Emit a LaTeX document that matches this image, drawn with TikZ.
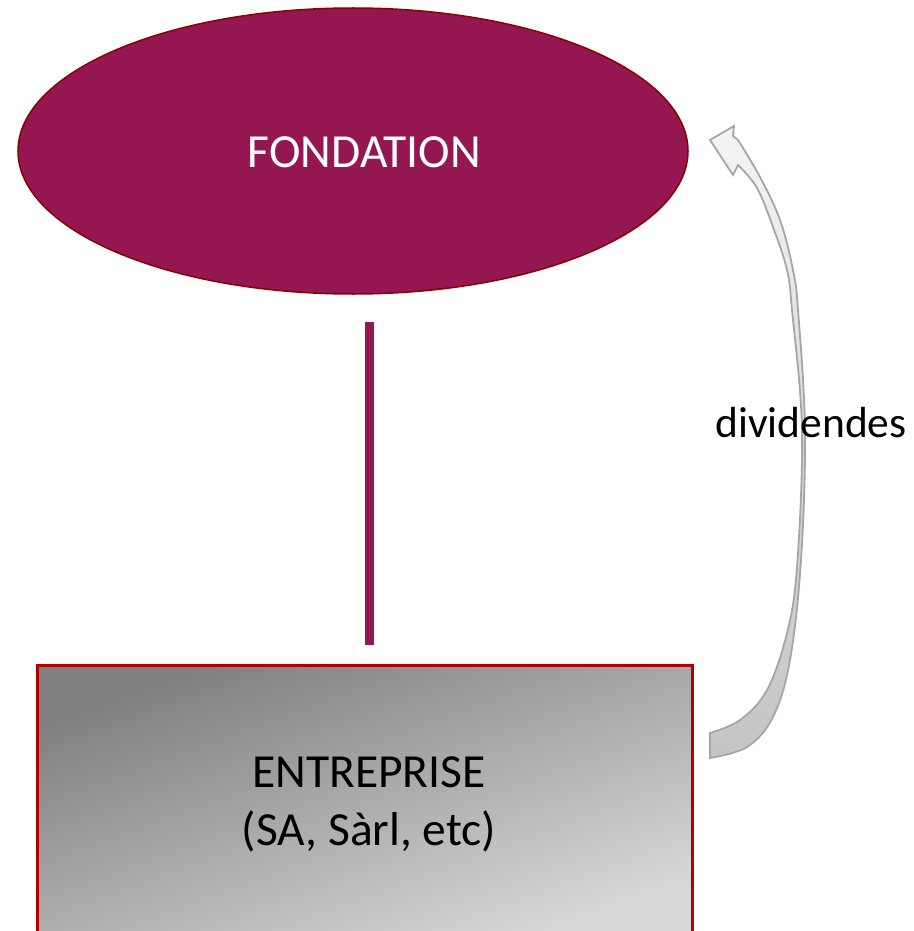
\documentclass[tikz,border=0pt]{standalone}
\usepackage{fontspec}
\setmainfont{Carlito}
\usetikzlibrary{shapes.geometric}
\definecolor{maroon}{HTML}{951751}
\definecolor{ellborder}{HTML}{8B0000}
\definecolor{rectborder}{HTML}{B00000}
\definecolor{gdark}{HTML}{7F7F7F}
\definecolor{glight}{HTML}{D8D8D8}
\definecolor{arrowline}{HTML}{A6A6A6}
\definecolor{arrowtop}{HTML}{F4F4F4}
\definecolor{arrowbot}{HTML}{C4C4C4}
\tikzset{
  bigtext/.style={font=\fontsize{47.5}{58}\selectfont, inner sep=0pt, anchor=base},
  smalltext/.style={font=\fontsize{43.5}{52}\selectfont, inner sep=0pt, anchor=base},
  fondshape/.style={ellipse, fill=maroon, draw=ellborder, line width=1.5pt, minimum width=670pt, minimum height=286pt, inner sep=0pt},
  entshape/.style={rectangle, draw=rectborder, line width=3pt, top color=gdark, bottom color=glight, shading angle=20, minimum width=655pt, minimum height=274pt, inner sep=0pt},
  link/.style={draw=maroon, line width=9pt},
  curvedarrow/.style={draw=arrowline, line width=1.8pt, top color=arrowtop, bottom color=arrowbot, line join=miter}
}
\begin{document}
\begin{tikzpicture}[x=1pt,y=-1pt]
\useasboundingbox (0,0) rectangle (913,931);
\begin{scope}
\clip (0,0) rectangle (913,931);
\node[fondshape] (fond) at (353,151) {};
\node[bigtext, text=white] (fondlbl) at (364.5,167) {FONDATION};
\node[entshape] (ent) at (364.5,802) {};
\node[bigtext] (entlbl1) at (369,787) {ENTREPRISE};
\node[bigtext] (entlbl2) at (369,845) {(SA, Sàrl, etc)};
\coordinate (linetop) at (369.5,322);
\coordinate (linebot) at (369.5,645);
\draw[link] (linetop) -- (linebot);
\path[curvedarrow] (710,140) -- (734,126) -- (733,136) -- (738,140)
  -- plot[smooth, tension=0.6] coordinates {(738,140) (760,177) (780,220) (793,270) (798,310) (805,430) (801,560) (790,660) (773,717) (747,747) (710,758)}
  -- (710,733)
  -- plot[smooth, tension=0.6] coordinates {(710,733) (740,720) (767,690) (787,633) (797,567) (802,430) (792,310) (787,270) (773,227) (757,188) (738,165)}
  -- (733,175) -- cycle;
\node[smalltext] (divlbl) at (811,437) {dividendes};
\end{scope}
\end{tikzpicture}
\end{document}
